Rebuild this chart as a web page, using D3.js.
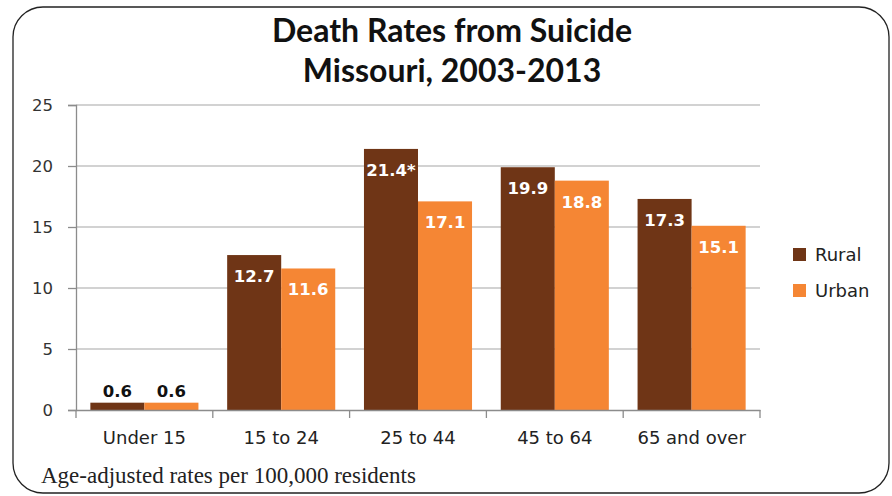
<!DOCTYPE html>
<html><head><meta charset="utf-8">
<script src="https://cdn.jsdelivr.net/npm/d3@7"></script>
<style>body{margin:0;background:#fff}svg{display:block}</style>
</head><body>
<script>
const categories = ["Under 15","15 to 24","25 to 44","45 to 64","65 and over"];
const seriesNames = ["Rural","Urban"];
const rural = [0.6,12.7,21.4,19.9,17.3];
const urban = [0.6,11.6,17.1,18.8,15.1];
const ruralLabels = ["0.6","12.7","21.4*","19.9","17.3"];
const urbanLabels = ["0.6","11.6","17.1","18.8","15.1"];
const yTicks = [0,5,10,15,20,25];
const colors = ["#6f3516","#f58634"];
const titleLines = ["Death Rates from Suicide","Missouri, 2003-2013"];
const footnote = "Age-adjusted rates per 100,000 residents";

const W=892,H=496;
const svg=d3.select("body").append("svg").attr("width",W).attr("height",H);

svg.append("rect").attr("x",13).attr("y",7).attr("width",876).attr("height",486)
  .attr("rx",30).attr("ry",30).attr("fill","#fff").attr("stroke","#222").attr("stroke-width",1.3);

const x0=d3.scaleBand().domain(categories).range([76,760]).paddingInner(0.21).paddingOuter(0.105);
const x1=d3.scaleBand().domain(seriesNames).range([0,x0.bandwidth()]);
const y=d3.scaleLinear().domain([0,25]).range([410,105]);

// gridlines
svg.append("g").selectAll("line").data(yTicks.filter(d=>d>0)).join("line")
  .attr("x1",76).attr("x2",760).attr("y1",d=>y(d)).attr("y2",d=>y(d))
  .attr("stroke","#a6a6a6").attr("stroke-width",1.2);

// y axis
const ya=svg.append("g").attr("transform","translate(76,0)")
  .call(d3.axisLeft(y).tickValues(yTicks).tickSize(8).tickPadding(15));
ya.select(".domain").attr("stroke","#8c8c8c").attr("stroke-width",1.3);
ya.selectAll(".tick line").attr("stroke","#8c8c8c").attr("stroke-width",1.3);
ya.selectAll("text").attr("font-family","Verdana, 'DejaVu Sans', sans-serif").attr("font-size",16.5).attr("fill","#333");

// bars
const data=categories.map((c,i)=>({c,vals:[{s:"Rural",v:rural[i],l:ruralLabels[i]},{s:"Urban",v:urban[i],l:urbanLabels[i]}]}));
const g=svg.append("g").selectAll("g").data(data).join("g").attr("transform",d=>`translate(${x0(d.c)},0)`);
g.selectAll("rect").data(d=>d.vals).join("rect")
  .attr("x",d=>x1(d.s)).attr("width",x1.bandwidth())
  .attr("y",d=>y(d.v)).attr("height",d=>y(0)-y(d.v))
  .attr("fill",(d,i)=>colors[i]);
g.selectAll("text").data(d=>d.vals).join("text")
  .attr("x",d=>x1(d.s)+x1.bandwidth()/2)
  .attr("y",d=>d.v<3? y(d.v)-6 : y(d.v)+27)
  .attr("text-anchor","middle")
  .attr("font-family","Verdana, 'DejaVu Sans', sans-serif").attr("font-weight","bold").attr("font-size",16.5)
  .attr("fill",d=>d.v<3?"#111":"#fff")
  .text(d=>d.l);

// x axis
const xa=svg.append("g").attr("transform","translate(0,410)")
  .call(d3.axisBottom(x0).tickSize(0).tickPadding(21));
xa.select(".domain").attr("stroke","#8c8c8c").attr("stroke-width",1.3);
xa.selectAll("text").attr("font-family","'DejaVu Sans', sans-serif").attr("font-size",18).attr("fill","#222");
const bounds=[0,1,2,3,4,5].map(i=>76+i*(684/5));
svg.append("g").selectAll("line").data(bounds).join("line")
  .attr("x1",d=>d).attr("x2",d=>d).attr("y1",410).attr("y2",418)
  .attr("stroke","#8c8c8c").attr("stroke-width",1.3);

// title
svg.append("g").selectAll("text").data(titleLines).join("text")
  .attr("x",452).attr("y",(d,i)=>42+i*40).attr("text-anchor","middle")
  .attr("font-family","Lato, 'Open Sans', sans-serif").attr("font-weight","bold").attr("font-size",32).attr("fill","#111")
  .text(d=>d);

// legend
const lg=svg.append("g").selectAll("g").data(seriesNames).join("g")
  .attr("transform",(d,i)=>`translate(793,${248+i*36})`);
lg.append("rect").attr("width",13).attr("height",13).attr("fill",(d,i)=>colors[i]);
lg.append("text").attr("x",22).attr("y",13).text(d=>d)
  .attr("font-family","Verdana, 'DejaVu Sans', sans-serif").attr("font-size",18).attr("fill","#222");

// footnote
svg.append("text").attr("x",41).attr("y",483).text(footnote)
  .attr("font-family","'Liberation Serif', serif").attr("font-size",23).attr("fill","#222");
</script>
</body></html>
